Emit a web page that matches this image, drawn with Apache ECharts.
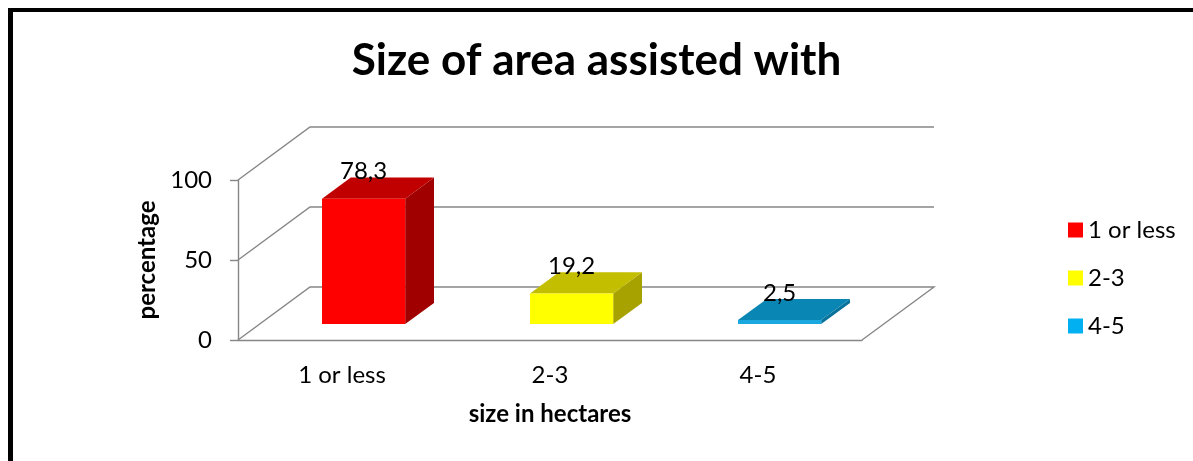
<!DOCTYPE html>
<html>
<head>
<meta charset="utf-8">
<title>Size of area assisted with</title>
<script src="https://cdn.jsdelivr.net/npm/echarts@6/dist/echarts.min.js"></script>
<style>
  html, body { margin: 0; padding: 0; background: #fff; }
  #chart { width: 1193px; height: 461px; }
</style>
</head>
<body>
<div id="chart"></div>
<script>
// data
const categories = ["1 or less", "2-3", "4-5"];
const values = [78.3, 19.2, 2.5];
const yTicks = [0, 50, 100];

const colors = [
  { front: "#FF0000", top: "#C00000", side: "#A00000", legend: "#FF0000" },
  { front: "#FFFF00", top: "#C4BE00", side: "#A8A200", legend: "#FFFF00" },
  { front: "#1AA8DE", top: "#0A86B4", side: "#08729A", legend: "#00B0F0" }
];

// fake 3d: how far the back wall sits from the front plane, in px
const DX = 72, DY = 53;
const BAR_W = 0.4, D0 = 0.3, D1 = 0.7;
const GRAY = "#868686";
const FONT = "Lato";

const fmt = (v) => String(v).replace(".", ",");

function renderWall(params, api) {
  const v = api.value(0);
  const bw = api.size([1, 0])[0];
  const first = api.coord([0, v]);
  const last = api.coord([categories.length - 1, v]);
  const left = first[0] - bw / 2;
  const right = last[0] + bw / 2;
  const y = first[1];
  const pts = [[left, y], [left + DX, y - DY], [right + DX, y - DY]];
  if (v === 0) pts.push([right, y]);
  return {
    type: "polyline",
    shape: { points: pts },
    style: { stroke: GRAY, lineWidth: 1.4, fill: null }
  };
}

function renderBar(params, api) {
  const i = api.value(0);
  const v = api.value(1);
  const c = colors[i];
  const bw = api.size([1, 0])[0];
  const base = api.coord([i, 0]);
  const top = api.coord([i, v]);
  const w = bw * BAR_W;
  const x0 = base[0] - w / 2 + D0 * DX;
  const x1 = x0 + w;
  const yb = base[1] - D0 * DY;
  const yt = top[1] - D0 * DY;
  const ddx = (D1 - D0) * DX, ddy = (D1 - D0) * DY;
  return {
    type: "group",
    children: [
      {
        type: "polygon",
        shape: { points: [[x1, yb], [x1 + ddx, yb - ddy], [x1 + ddx, yt - ddy], [x1, yt]] },
        style: { fill: c.side }
      },
      {
        type: "polygon",
        shape: { points: [[x0, yt], [x1, yt], [x1 + ddx, yt - ddy], [x0 + ddx, yt - ddy]] },
        style: { fill: c.top }
      },
      {
        type: "rect",
        shape: { x: x0, y: yt, width: w, height: Math.max(yb - yt, 2) },
        style: { fill: c.front }
      },
      {
        type: "text",
        x: (x0 + x1) / 2,
        y: yt - ddy - 6,
        style: {
          text: fmt(v),
          fill: "#000",
          font: "24px " + FONT,
          align: "center",
          verticalAlign: "middle"
        }
      }
    ]
  };
}

const chart = echarts.init(document.getElementById("chart"));

const barSeries = categories.map((name, i) => ({
  name: name,
  type: "custom",
  renderItem: renderBar,
  itemStyle: { color: colors[i].legend },
  data: [[i, values[i]]],
  z: 3
}));

chart.setOption({
  backgroundColor: "#fff",
  animation: false,
  textStyle: { fontFamily: FONT },
  title: {
    text: "Size of area assisted with",
    left: "center",
    top: 34,
    textStyle: { fontSize: 44, fontWeight: "bold", color: "#000", fontFamily: FONT }
  },
  legend: {
    orient: "vertical",
    left: 1068,
    top: 218,
    padding: 0,
    itemWidth: 15,
    itemHeight: 15,
    itemGap: 24,
    icon: "rect",
    data: categories,
    textStyle: { fontSize: 24, color: "#000", lineHeight: 24, fontFamily: FONT }
  },
  grid: { left: 238, top: 180, width: 624, height: 160 },
  xAxis: {
    type: "category",
    data: categories,
    name: "size in hectares",
    nameLocation: "middle",
    nameGap: 62,
    nameTextStyle: { fontSize: 24, fontWeight: "bold", color: "#000" },
    axisLine: { lineStyle: { color: GRAY, width: 1.4 } },
    axisTick: { length: 8, lineStyle: { color: GRAY, width: 1.4 } },
    axisLabel: { fontSize: 24, color: "#000", margin: 23 }
  },
  yAxis: {
    type: "value",
    min: 0,
    max: 100,
    interval: 50,
    name: "percentage",
    nameLocation: "middle",
    nameGap: 74,
    nameTextStyle: { fontSize: 24, fontWeight: "bold", color: "#000" },
    axisLine: { show: true, lineStyle: { color: GRAY, width: 1.4 } },
    axisTick: { show: true, length: 8, lineStyle: { color: GRAY, width: 1.4 } },
    axisLabel: { fontSize: 24, color: "#000", margin: 26 },
    splitLine: { show: false }
  },
  graphic: [
    { type: "rect", shape: { x: 8, y: 8, width: 1200, height: 4 }, style: { fill: "#000" } },
    { type: "rect", shape: { x: 8, y: 8, width: 5, height: 470 }, style: { fill: "#000" } }
  ],
  series: [
    {
      type: "custom",
      renderItem: renderWall,
      data: yTicks.map((t) => [t]),
      encode: { y: 0 },
      silent: true,
      z: 1
    }
  ].concat(barSeries)
});
</script>
</body>
</html>
